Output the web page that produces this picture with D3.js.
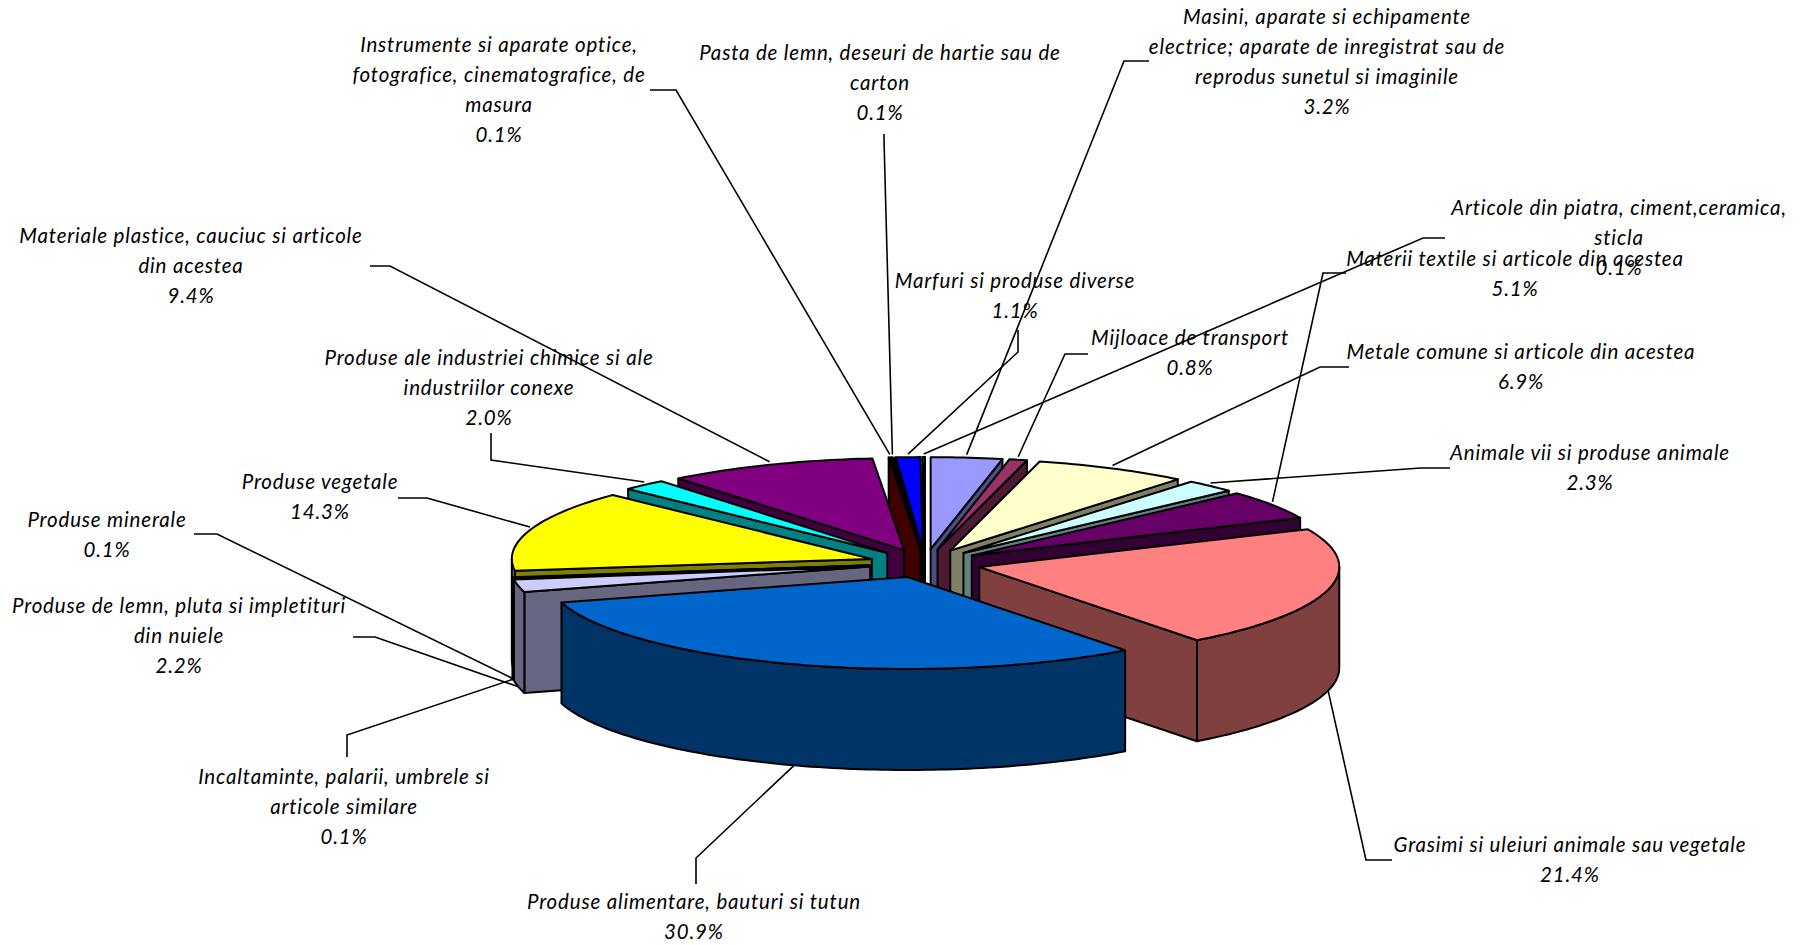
<!DOCTYPE html>
<html>
<head>
<meta charset="utf-8">
<script src="https://cdn.jsdelivr.net/npm/d3@7"></script>
<style>
  html, body { margin: 0; padding: 0; background: #fff; }
  text { font-family: Lato, "Open Sans", sans-serif; font-style: italic; font-size: 20.5px; fill: #000; letter-spacing: 0.82px; }
</style>
</head>
<body>
<div id="chart"></div>
<script>
// Data, clockwise from 12 o'clock
const categories = [
  "Masini, aparate si echipamente\nelectrice; aparate de inregistrat sau de\nreprodus sunetul si imaginile",
  "Mijloace de transport",
  "Metale comune si articole din acestea",
  "Animale vii si produse animale",
  "Materii textile si articole din acestea",
  "Grasimi si uleiuri animale sau vegetale",
  "Produse alimentare, bauturi si tutun",
  "Produse de lemn, pluta si impletituri\ndin nuiele",
  "Incaltaminte, palarii, umbrele si\narticole similare",
  "Produse minerale",
  "Produse vegetale",
  "Produse ale industriei chimice si ale\nindustriilor conexe",
  "Materiale plastice, cauciuc si articole\ndin acestea",
  "Instrumente si aparate optice,\nfotografice, cinematografice, de\nmasura",
  "Pasta de lemn, deseuri de hartie sau de\ncarton",
  "Marfuri si produse diverse",
  "Articole din piatra, ciment,ceramica,\nsticla"
];
const shares = [3.2, 0.8, 6.9, 2.3, 5.1, 21.4, 30.9, 2.2, 0.1, 0.1, 14.3, 2.0, 9.4, 0.1, 0.1, 1.1, 0.1];
const topColors = ["#9999FF", "#993366", "#FFFFCC", "#CCFFFF", "#660066", "#FF8080", "#0066CC", "#CCCCFF",
                   "#000080", "#FF00FF", "#FFFF00", "#00FFFF", "#800080", "#800000", "#008080", "#0000FF", "#00CCFF"];

// Label layout: centre x and y of first line, then the two leader points next to the label
const labelAt = [[1327, 17], [1190, 338], [1521, 352], [1590, 453], [1515, 259], [1570, 845], [694, 902], [179, 606],
                 [344, 777], [107, 520], [320, 482], [489, 358], [191, 236], [499, 45], [880, 53], [1015, 281], [1619, 208]];
const leaderAt = [
  [[1149, 61], [1124, 61]], [[1088, 354], [1065, 354]], [[1349, 367], [1320, 367]], [[1450, 468], [1421, 468]],
  [[1346, 273], [1323, 273]], [[1392, 860], [1366, 860]], [[696, 884], [696, 858]], [[353, 637], [375, 637]],
  [[347, 757], [347, 735]], [[194, 534], [217, 534]], [[398, 498], [427, 498]], [[491, 433], [491, 460]],
  [[370, 266], [390, 266]], [[650, 90], [676, 90]], [[884, 134], [884, 140]], [[1018, 330], [1018, 352]], [[1445, 238], [1423, 238]]
];

const width = 1811, height = 945;
const cx = 925, cy = 563.4;      // pie centre before explosion
const rx = 360, ry = 92;         // ellipse radii of the tilted pie
const explode = 56, depth = 101;
const lineGap = 30;

const svg = d3.select("#chart").append("svg")
  .attr("width", width)
  .attr("height", height)
  .style("display", "block");

// d3.pie angles start at 12 o'clock, same as the chart
const arcs = d3.pie().value(d => d).sort(null)(shares);

const ex = d3.scaleLinear().domain([-1, 1]).range([-rx, rx]);
const ey = d3.scaleLinear().domain([-1, 1]).range([-ry, ry]);

// Apex of an exploded slice
function apex(d) {
  const mid = (d.startAngle + d.endAngle) / 2;
  return [cx + explode * Math.sin(mid), cy - explode * (ry / rx) * Math.cos(mid)];
}
function rim(d, a) {
  const p = apex(d);
  return [p[0] + ex(Math.sin(a)), p[1] + ey(-Math.cos(a))];
}
function sampled(a0, a1) {
  const n = Math.max(1, Math.ceil((a1 - a0) / 0.02));
  return d3.range(n + 1).map(i => a0 + (a1 - a0) * i / n);
}
const line = d3.line();
const down = p => [p[0], p[1] + depth];

function shade(c) {
  const k = d3.rgb(c);
  return d3.rgb(k.r / 2, k.g / 2, k.b / 2).formatHex();
}

// Back slices first, so the front ones cover them
const order = arcs.slice().sort((a, b) =>
  Math.cos((b.startAngle + b.endAngle) / 2) - Math.cos((a.startAngle + a.endAngle) / 2));

const pieG = svg.append("g")
  .attr("stroke", "#000")
  .attr("stroke-width", 2)
  .attr("stroke-linejoin", "round");

order.forEach(d => {
  const side = shade(topColors[d.index]);
  const c = apex(d);
  const g = pieG.append("g");

  // Radial walls that face the viewer
  if (Math.sin(d.startAngle) < 0) {
    const r = rim(d, d.startAngle);
    g.append("path").attr("d", line([r, c, down(c), down(r)]) + "Z").attr("fill", side);
  }
  if (Math.sin(d.endAngle) > 0) {
    const r = rim(d, d.endAngle);
    g.append("path").attr("d", line([c, r, down(r), down(c)]) + "Z").attr("fill", side);
  }

  // Outer wall, only the part on the front half of the ellipse
  const front0 = Math.max(d.startAngle, Math.PI / 2);
  const front1 = Math.min(d.endAngle, Math.PI * 1.5);
  if (front1 > front0) {
    const edge = sampled(front0, front1).map(a => rim(d, a));
    g.append("path").attr("d", line(edge.concat(edge.slice().reverse().map(down))) + "Z").attr("fill", side);
  }

  // Top face
  const top = [c].concat(sampled(d.startAngle, d.endAngle).map(a => rim(d, a)));
  g.append("path").attr("d", line(top) + "Z").attr("fill", topColors[d.index]);
});

// Leader lines end on the rim at the slice's middle
const leaders = svg.append("g").attr("fill", "none").attr("stroke", "#000").attr("stroke-width", 1.6);
arcs.forEach(d => {
  const mid = (d.startAngle + d.endAngle) / 2;
  const r = rim(d, mid);
  const end = Math.cos(mid) < 0 ? down(r) : [r[0], r[1] - 3];
  leaders.append("path").attr("d", line(leaderAt[d.index].concat([end])));
});

// Labels
const fmt = d3.format(".1f");
const labels = svg.append("g").attr("text-anchor", "middle");
arcs.forEach(d => {
  const lines = categories[d.index].split("\n").concat(fmt(d.value) + "%");
  lines.forEach((t, i) => {
    labels.append("text")
      .attr("x", labelAt[d.index][0])
      .attr("y", labelAt[d.index][1] + i * lineGap)
      .attr("dy", "0.35em")
      .text(t);
  });
});
</script>
</body>
</html>
